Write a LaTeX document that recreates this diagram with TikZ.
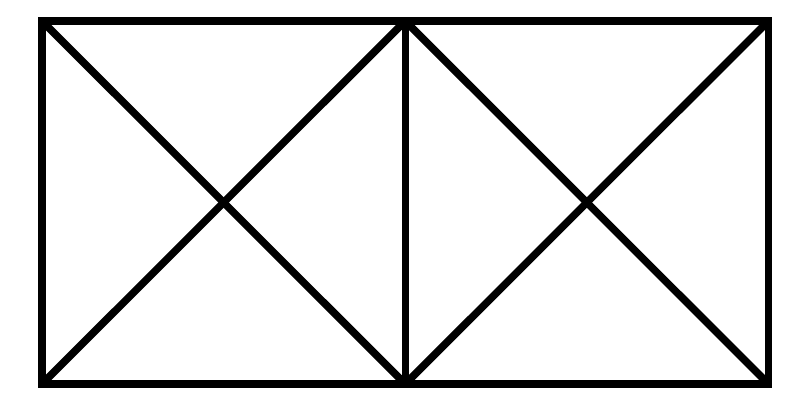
\documentclass[tikz,border=0pt]{standalone}
\begin{document}
\begin{tikzpicture}[x=1pt,y=-1pt, frame/.style={line width=7.5pt, line join=miter, draw=black}]
\useasboundingbox (0,0) rectangle (800,406);
\coordinate (tl) at (42,21);
\coordinate (tm) at (405.25,21);
\coordinate (tr) at (768.5,21);
\coordinate (bl) at (42,384);
\coordinate (bm) at (405.25,384);
\coordinate (br) at (768.5,384);
\draw[frame] (tl) rectangle (br);
\draw[frame] (tm) -- (bm);
\draw[frame] (tl) -- (bm);
\draw[frame] (bl) -- (tm);
\draw[frame] (tm) -- (br);
\draw[frame] (bm) -- (tr);
\end{tikzpicture}
\end{document}
